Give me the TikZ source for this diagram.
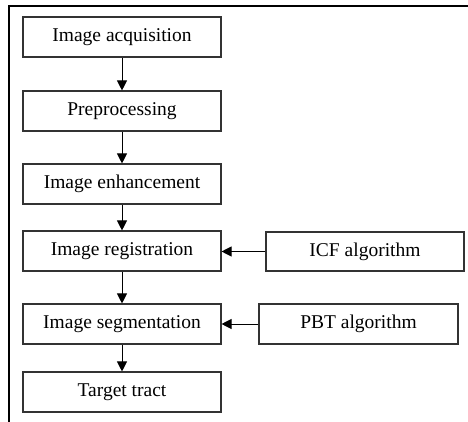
\documentclass[tikz,border=0pt]{standalone}
\usepackage{fontspec}
\setmainfont{Liberation Serif}
\usetikzlibrary{arrows.meta}
\begin{document}
\begin{tikzpicture}[x=1pt,y=-1pt,
  stepbox/.style={draw=black!80, line width=1.1pt, fill=white,
    minimum width=198pt, minimum height=40pt, inner sep=0pt,
    font=\fontsize{19.5}{23}\selectfont},
  flow/.style={line width=1pt, -{Triangle[length=10pt,width=10pt]}},
  frame/.style={line width=2.4pt}]
  \useasboundingbox (0,0) rectangle (468,422);
  % outer frame (top and left edges only)
  \draw[frame] (9,423) -- (9,6) -- (469,6);
  % main pipeline
  \node[stepbox] (acq) at (122,37) {Image acquisition};
  \node[stepbox] (pre) at (122,111) {Preprocessing};
  \node[stepbox] (enh) at (122,184) {Image enhancement};
  \node[stepbox] (reg) at (122,251) {Image registration};
  \node[stepbox] (seg) at (122,324) {Image segmentation};
  \node[stepbox] (tgt) at (122,392) {Target tract};
  % side inputs
  \node[stepbox, minimum height=39pt] (icf) at (365,251.5) {ICF algorithm};
  \node[stepbox, minimum width=199pt] (pbt) at (358.5,324) {PBT algorithm};
  % connectors
  \draw[flow] (acq) -- (pre);
  \draw[flow] (pre) -- (enh);
  \draw[flow] (enh) -- (reg);
  \draw[flow] (reg) -- (seg);
  \draw[flow] (seg) -- (tgt);
  \draw[flow] (icf.west) -- (icf.west -| reg.east);
  \draw[flow] (pbt.west) -- (pbt.west -| seg.east);
\end{tikzpicture}
\end{document}
